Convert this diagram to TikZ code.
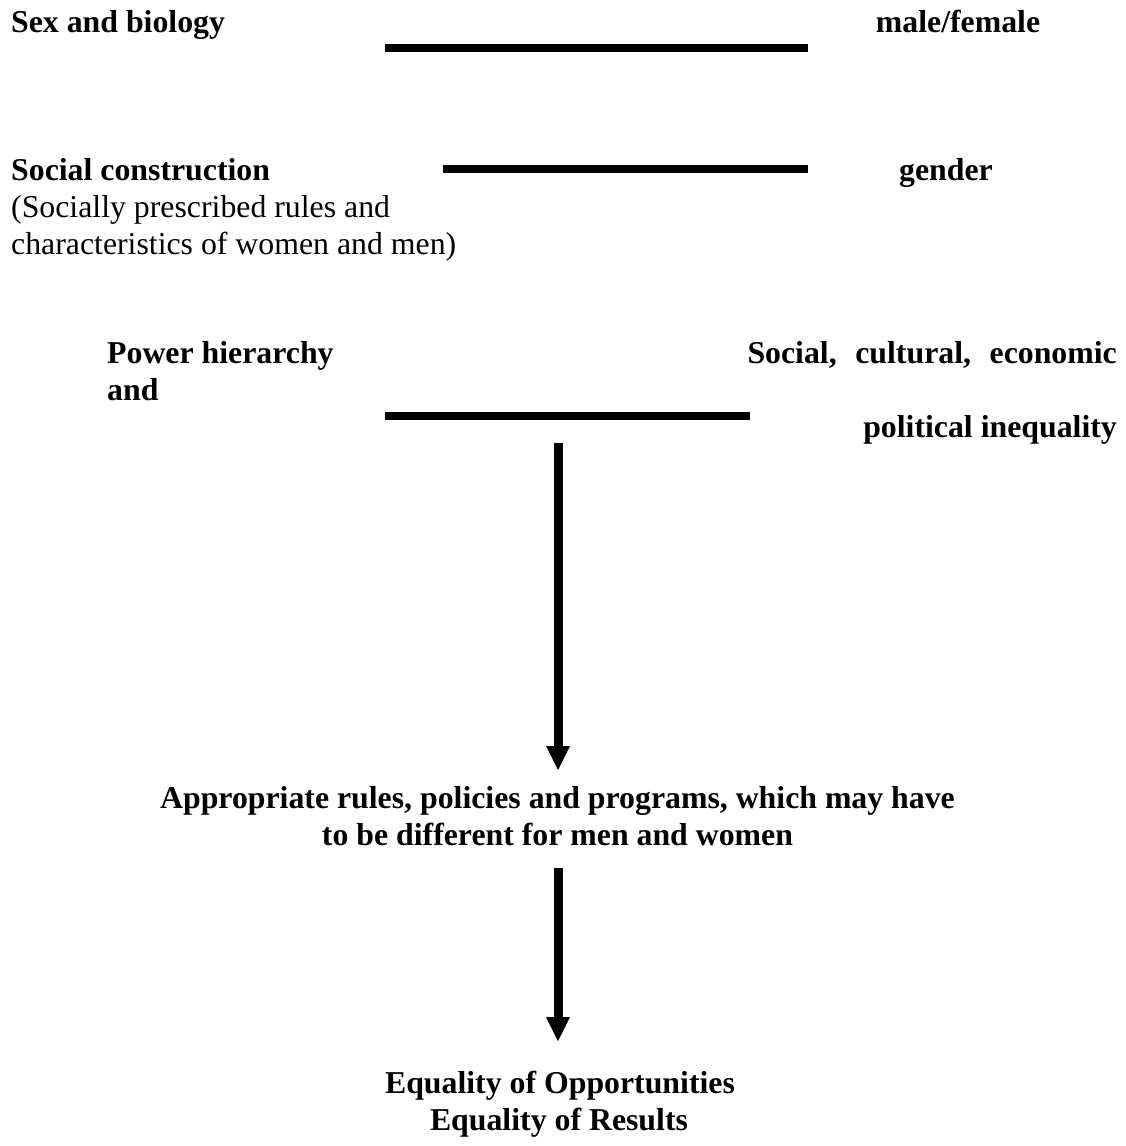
\documentclass[tikz,border=0pt]{standalone}
\usepackage{fontspec}
\setmainfont{Liberation Serif}
\usetikzlibrary{arrows.meta}
\begin{document}
\begin{tikzpicture}[x=1pt,y=-1pt,
  bold/.style={font=\fontsize{31.8}{37}\selectfont\bfseries, inner sep=0pt},
  plain/.style={font=\fontsize{31.8}{37}\selectfont, inner sep=0pt},
  bar/.style={line width=8pt, line cap=butt},
  bigarrow/.style={line width=9pt, line cap=butt,
    -{Triangle[width=24pt 0 1,length=24pt 0 1,line width=0pt 0 0]}}]
\useasboundingbox[fill=white] (0,0) rectangle (1126,1146);

% row 1
\node[bold, anchor=base west] (sex) at (11,32) {Sex and biology};
\node[bold, anchor=base west] (mf) at (875.7,32) {male/female};
\coordinate (l1a) at (385,48);
\coordinate (l1b) at (807.7,48);
\draw[bar] (l1a) -- (l1b);

% row 2
\node[bold, anchor=base west] (soc) at (11,180) {Social construction};
\node[plain, anchor=base west] (soc2) at (11,217) {(Socially prescribed rules and};
\node[plain, anchor=base west] (soc3) at (11,254) {characteristics of women and men)};
\node[bold, anchor=base west] (gen) at (899,180) {gender};
\coordinate (l2a) at (442.7,169);
\coordinate (l2b) at (807.7,169);
\draw[bar] (l2a) -- (l2b);

% row 3
\node[bold, anchor=base west] (pow) at (107,363) {Power hierarchy};
\node[bold, anchor=base west] (pow2) at (107,400) {and};
\node[bold, anchor=base east] (sce) at (1117,363) {\makebox[369.3pt][s]{Social,\hfill cultural,\hfill economic}};
\node[bold, anchor=base east] (pol) at (1117,437) {political inequality};
\coordinate (l3a) at (385,415.5);
\coordinate (l3b) at (750,415.5);
\draw[bar] (l3a) -- (l3b);

% arrow 1
\coordinate (a1s) at (558,443);
\coordinate (a1e) at (558,770);
\draw[bigarrow] (a1s) -- (a1e);

\node[bold, anchor=base] (app1) at (557.5,808) {Appropriate rules, policies and programs, which may have};
\node[bold, anchor=base] (app2) at (557.5,845) {to be different for men and women};

% arrow 2
\coordinate (a2s) at (558,868);
\coordinate (a2e) at (558,1041);
\draw[bigarrow] (a2s) -- (a2e);

\node[bold, anchor=base] (eq1) at (560,1093) {Equality of Opportunities};
\node[bold, anchor=base] (eq2) at (559,1130) {Equality of Results};
\end{tikzpicture}
\end{document}
